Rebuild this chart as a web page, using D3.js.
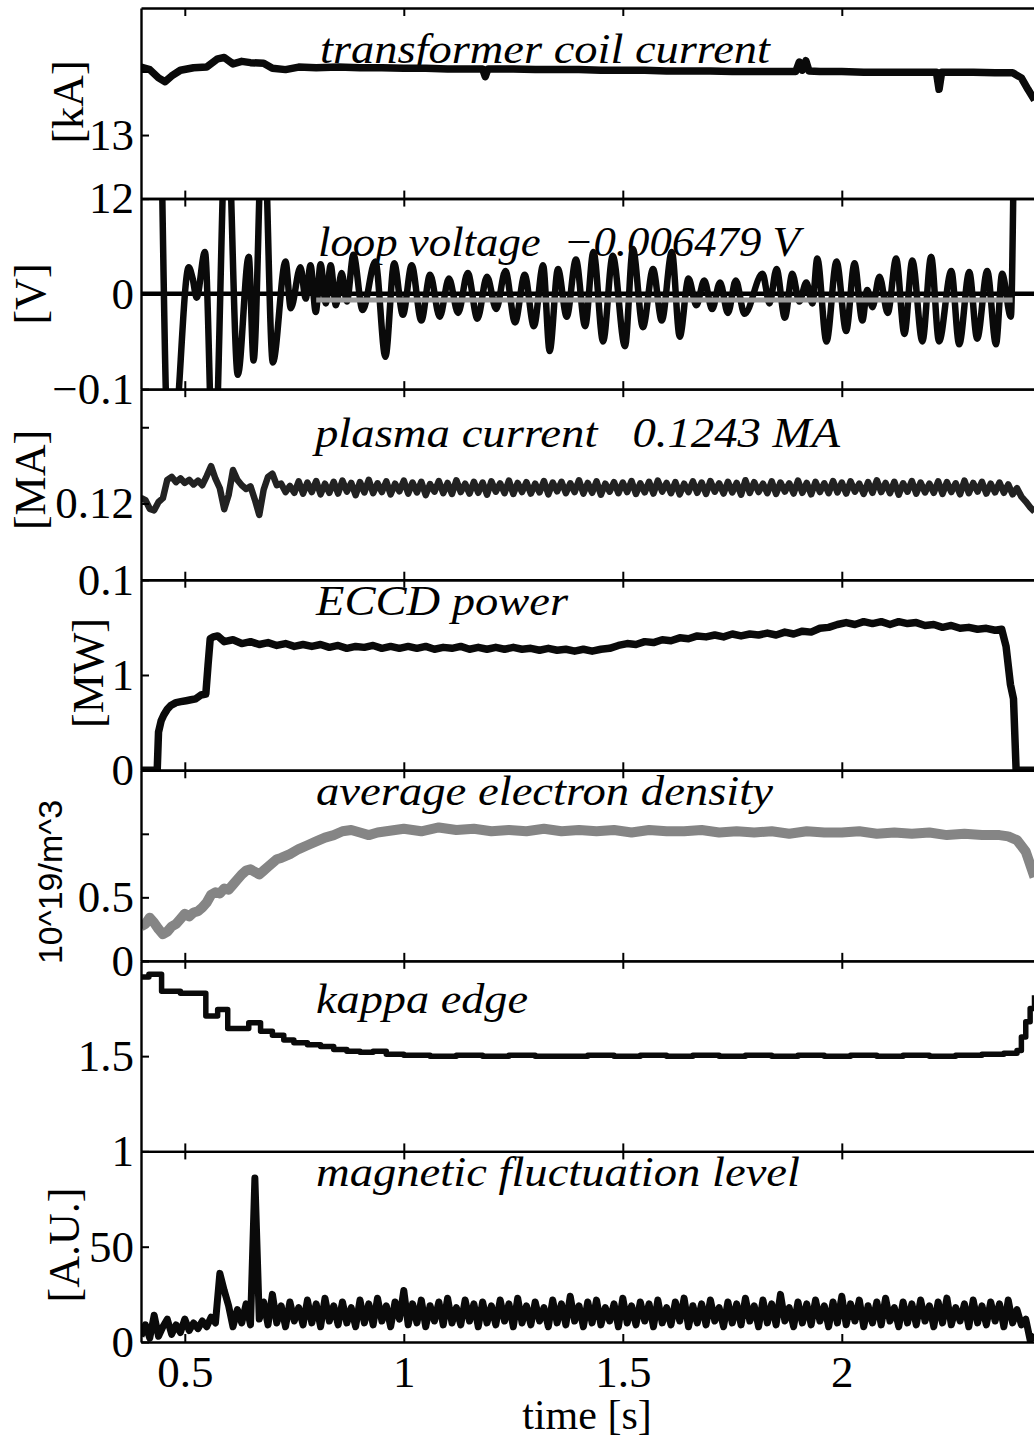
<!DOCTYPE html>
<html>
<head>
<meta charset="utf-8">
<script src="https://cdn.jsdelivr.net/npm/d3@7"></script>
<style>
  html, body { margin: 0; padding: 0; background: #fff; overflow: hidden; }
  svg { display: block; }
  text { font-family: "Liberation Serif", "Times New Roman", serif; fill: #000; }
  .tick-label text, .time-label text { font-size: 45px; }
  .unit { font-size: 44px; }
  .axis-title { font-size: 42px; }
  .unit-sans { font-family: "Liberation Sans", Arial, sans-serif; font-size: 34px; }
  .title { font-size: 42px; font-style: italic; white-space: pre; }
  .domain { stroke: #000; stroke-width: 2.4px; }
  .tick line { stroke: #000; stroke-width: 2px; }
</style>
</head>
<body>
<svg id="chart" width="1034" height="1440"></svg>
<script>
// ---- time axis ----
const timeDomain = [0.4, 2.5];
const timeTicks = [0.5, 1, 1.5, 2];

// ---- transformer coil current [kA] ----
const coilT = [0.40, 0.42, 0.44, 0.455, 0.47, 0.49, 0.52, 0.55, 0.575, 0.59,
  0.61, 0.63, 0.65, 0.68, 0.70, 0.73, 0.76, 0.80, 0.85, 0.90,
  0.95, 1.00, 1.05, 1.10, 1.15, 1.18, 1.186, 1.192, 1.25, 1.30,
  1.35, 1.40, 1.45, 1.50, 1.55, 1.60, 1.65, 1.70, 1.75, 1.80,
  1.85, 1.895, 1.903, 1.91, 1.918, 1.925, 1.95, 2.00, 2.05, 2.10,
  2.15, 2.20, 2.216, 2.222, 2.228, 2.25, 2.30, 2.35, 2.39, 2.41,
  2.425, 2.44];
const coilKA = [14.07, 14.03, 13.90, 13.84, 13.93, 14.02, 14.06, 14.07, 14.20, 14.22,
  14.12, 14.16, 14.14, 14.13, 14.05, 14.03, 14.07, 14.06, 14.07, 14.06,
  14.06, 14.05, 14.05, 14.04, 14.04, 14.04, 13.92, 14.04, 14.04, 14.03,
  14.03, 14.03, 14.02, 14.02, 14.02, 14.01, 14.01, 14.01, 14.00, 14.00,
  14.00, 14.00, 14.15, 14.02, 14.17, 14.01, 14.00, 14.00, 13.99, 13.99,
  13.99, 13.99, 13.99, 13.72, 13.99, 13.99, 13.99, 13.98, 13.98, 13.90,
  13.72, 13.55];

// ---- loop voltage [V]: [time, volts] ----
const loopVoltage = [
  [0.446, 0.18], [0.464, -0.18], [0.476, -0.16], [0.509, 0.028], [0.518, 0.016],
  [0.527, -0.004], [0.546, 0.044], [0.566, -0.2], [0.596, 0.2], [0.621, -0.085],
  [0.646, 0.039], [0.657, -0.07], [0.679, 0.2], [0.701, -0.072], [0.730, 0.034],
  [0.742, -0.015], [0.764, 0.028], [0.776, -0.005], [0.787, 0.030], [0.799, -0.019],
  [0.810, 0.031], [0.822, -0.010], [0.833, 0.030], [0.845, -0.012], [0.858, 0.022],
  [0.870, -0.008], [0.885, 0.041], [0.906, -0.017], [0.935, 0.034], [0.958, -0.066],
  [0.978, 0.032], [0.998, -0.022], [1.018, 0.030], [1.040, -0.028], [1.060, 0.020],
  [1.082, -0.024], [1.103, 0.016], [1.124, -0.020], [1.146, 0.022], [1.168, -0.026],
  [1.190, 0.018], [1.211, -0.016], [1.232, 0.024], [1.254, -0.030], [1.276, 0.020],
  [1.297, -0.034], [1.318, 0.030], [1.333, -0.060], [1.352, 0.026], [1.372, -0.024],
  [1.393, 0.036], [1.414, -0.034], [1.433, 0.044], [1.455, -0.050], [1.477, 0.040],
  [1.505, -0.055], [1.523, 0.047], [1.546, -0.035], [1.569, 0.026], [1.589, -0.028],
  [1.612, 0.044], [1.630, -0.045], [1.650, 0.016], [1.668, -0.012], [1.686, 0.014],
  [1.704, -0.016], [1.722, 0.012], [1.740, -0.020], [1.758, 0.014], [1.778, -0.021],
  [1.819, 0.021], [1.835, -0.010], [1.851, 0.026], [1.870, -0.025], [1.887, 0.021],
  [1.903, -0.008], [1.919, 0.012], [1.933, -0.010], [1.944, 0.037], [1.965, -0.050],
  [1.988, 0.034], [2.010, -0.039], [2.029, 0.032], [2.047, -0.028], [2.058, 0.004],
  [2.070, -0.014], [2.086, 0.018], [2.105, -0.020], [2.124, 0.037], [2.143, -0.042],
  [2.161, 0.035], [2.184, -0.050], [2.204, 0.039], [2.222, -0.050], [2.250, 0.024],
  [2.268, -0.053], [2.291, 0.023], [2.309, -0.047], [2.332, 0.024], [2.352, -0.053],
  [2.366, 0.021], [2.386, -0.024], [2.396, 0.2], [2.44, 0.2]
];
const loopVoltageMean = -0.006479;
const loopMeanWindow = [0.80, 2.39];

// ---- plasma current [MA], sampled every 10 ms from 0.40 s ----
const plasmaStart = 0.40, plasmaInterval = 0.01;
const plasmaCurrent = [
  0.1215, 0.1209, 0.1186, 0.1182, 0.1204, 0.1214, 0.1262, 0.1270, 0.1256, 0.1266,
  0.1254, 0.1262, 0.1250, 0.1260, 0.1248, 0.1272, 0.1298, 0.1265, 0.1240, 0.1185,
  0.1222, 0.1288, 0.1262, 0.1248, 0.1238, 0.1245, 0.1210, 0.1170, 0.1236, 0.1270,
  0.1278, 0.1248, 0.1252, 0.1230, 0.1246, 0.1228, 0.1258, 0.1226, 0.1255, 0.1230,
  0.1259, 0.1224, 0.1252, 0.1228, 0.1257, 0.1226, 0.1260, 0.1231, 0.1254, 0.1222,
  0.1256, 0.1229, 0.1262, 0.1227, 0.1253, 0.1230, 0.1258, 0.1224, 0.1252, 0.1232,
  0.1260, 0.1226, 0.1255, 0.1229, 0.1257, 0.1222, 0.1251, 0.1231, 0.1259, 0.1227,
  0.1254, 0.1225, 0.1261, 0.1230, 0.1252, 0.1226, 0.1257, 0.1228, 0.1255, 0.1223,
  0.1258, 0.1231, 0.1253, 0.1227, 0.1260, 0.1225, 0.1254, 0.1230, 0.1256, 0.1226,
  0.1252, 0.1229, 0.1259, 0.1224, 0.1255, 0.1232, 0.1257, 0.1227, 0.1253, 0.1230,
  0.1261, 0.1226, 0.1254, 0.1228, 0.1258, 0.1223, 0.1252, 0.1231, 0.1256, 0.1227,
  0.1255, 0.1230, 0.1259, 0.1225, 0.1253, 0.1229, 0.1257, 0.1226, 0.1260, 0.1231,
  0.1254, 0.1227, 0.1256, 0.1224, 0.1252, 0.1230, 0.1258, 0.1228, 0.1255, 0.1225,
  0.1259, 0.1231, 0.1253, 0.1226, 0.1257, 0.1229, 0.1254, 0.1223, 0.1261, 0.1228,
  0.1256, 0.1230, 0.1252, 0.1227, 0.1258, 0.1225, 0.1255, 0.1231, 0.1253, 0.1226,
  0.1260, 0.1228, 0.1254, 0.1224, 0.1257, 0.1230, 0.1253, 0.1227, 0.1259, 0.1229,
  0.1255, 0.1226, 0.1258, 0.1231, 0.1252, 0.1225, 0.1256, 0.1228, 0.1261, 0.1230,
  0.1254, 0.1227, 0.1257, 0.1223, 0.1253, 0.1231, 0.1259, 0.1226, 0.1255, 0.1229,
  0.1252, 0.1228, 0.1258, 0.1225, 0.1256, 0.1230, 0.1253, 0.1224, 0.1260, 0.1227,
  0.1254, 0.1231, 0.1257, 0.1226, 0.1252, 0.1229, 0.1255, 0.1228, 0.1250, 0.1224,
  0.1240, 0.1218, 0.1205, 0.1190, 0.1178
];
const plasmaCurrentMean = 0.1243;

// ---- ECCD power [MW]: [time, MW] ----
const eccdPower = [
  [0.40, 0], [0.437, 0], [0.440, 0.40], [0.446, 0.52], [0.452, 0.58], [0.460, 0.64],
  [0.468, 0.68], [0.480, 0.71], [0.491, 0.72], [0.503, 0.73], [0.514, 0.74], [0.525, 0.75],
  [0.537, 0.79], [0.548, 0.80], [0.553, 1.10], [0.558, 1.38], [0.565, 1.40], [0.575, 1.41],
  [0.59, 1.35], [0.61, 1.37], [0.63, 1.33], [0.65, 1.35], [0.67, 1.32], [0.69, 1.34],
  [0.71, 1.31], [0.73, 1.33], [0.75, 1.30], [0.77, 1.32], [0.79, 1.30], [0.81, 1.32],
  [0.83, 1.29], [0.85, 1.31], [0.87, 1.28], [0.89, 1.30], [0.91, 1.29], [0.93, 1.31],
  [0.95, 1.28], [0.97, 1.30], [0.99, 1.28], [1.01, 1.30], [1.03, 1.28], [1.05, 1.30],
  [1.07, 1.27], [1.09, 1.29], [1.11, 1.28], [1.13, 1.30], [1.15, 1.27], [1.17, 1.29],
  [1.19, 1.27], [1.21, 1.29], [1.23, 1.27], [1.25, 1.29], [1.27, 1.27], [1.29, 1.28],
  [1.31, 1.26], [1.33, 1.28], [1.35, 1.26], [1.37, 1.27], [1.39, 1.25], [1.41, 1.27],
  [1.43, 1.25], [1.45, 1.27], [1.47, 1.28], [1.49, 1.31], [1.51, 1.33], [1.53, 1.32],
  [1.55, 1.35], [1.57, 1.34], [1.59, 1.37], [1.61, 1.36], [1.63, 1.39], [1.65, 1.38],
  [1.67, 1.41], [1.69, 1.40], [1.71, 1.42], [1.73, 1.40], [1.75, 1.43], [1.77, 1.41],
  [1.79, 1.43], [1.81, 1.42], [1.83, 1.44], [1.85, 1.42], [1.87, 1.45], [1.89, 1.43],
  [1.91, 1.46], [1.93, 1.45], [1.95, 1.49], [1.97, 1.50], [1.99, 1.53], [2.01, 1.55],
  [2.03, 1.53], [2.05, 1.56], [2.07, 1.54], [2.09, 1.56], [2.11, 1.53], [2.13, 1.56],
  [2.15, 1.54], [2.17, 1.55], [2.19, 1.52], [2.21, 1.53], [2.23, 1.50], [2.25, 1.52],
  [2.27, 1.49], [2.29, 1.50], [2.31, 1.48], [2.33, 1.49], [2.35, 1.47], [2.365, 1.48],
  [2.375, 1.30], [2.385, 0.90], [2.392, 0.75], [2.398, 0], [2.44, 0]
];

// ---- line-averaged electron density [10^19 m^-3]: [time, value] ----
const electronDensity = [
  [0.40, 0.27], [0.41, 0.29], [0.42, 0.34], [0.43, 0.30], [0.44, 0.25], [0.45, 0.21],
  [0.46, 0.23], [0.47, 0.27], [0.48, 0.29], [0.49, 0.33], [0.50, 0.37], [0.51, 0.35],
  [0.52, 0.38], [0.53, 0.39], [0.54, 0.42], [0.55, 0.46], [0.56, 0.52], [0.57, 0.54],
  [0.58, 0.53], [0.59, 0.57], [0.60, 0.56], [0.61, 0.60], [0.62, 0.64], [0.63, 0.68],
  [0.64, 0.71], [0.65, 0.72], [0.66, 0.70], [0.67, 0.68], [0.68, 0.71], [0.69, 0.74],
  [0.70, 0.77], [0.71, 0.80], [0.72, 0.81], [0.74, 0.84], [0.76, 0.88], [0.78, 0.91],
  [0.80, 0.94], [0.82, 0.97], [0.84, 0.99], [0.86, 1.02], [0.88, 1.03], [0.90, 1.01],
  [0.92, 0.99], [0.94, 1.01], [0.96, 1.02], [0.98, 1.03], [1.00, 1.04], [1.04, 1.02],
  [1.08, 1.05], [1.12, 1.03], [1.16, 1.04], [1.20, 1.02], [1.24, 1.03], [1.28, 1.02],
  [1.32, 1.04], [1.36, 1.02], [1.40, 1.03], [1.44, 1.02], [1.48, 1.03], [1.52, 1.01],
  [1.56, 1.03], [1.60, 1.02], [1.64, 1.02], [1.68, 1.03], [1.72, 1.01], [1.76, 1.02],
  [1.80, 1.01], [1.84, 1.02], [1.88, 1.00], [1.92, 1.02], [1.96, 1.01], [2.00, 1.01],
  [2.04, 1.02], [2.08, 1.00], [2.12, 1.01], [2.16, 1.00], [2.20, 1.01], [2.24, 0.99],
  [2.28, 1.00], [2.32, 0.99], [2.36, 0.99], [2.38, 0.98], [2.40, 0.95], [2.42, 0.86],
  [2.44, 0.66]
];

// ---- edge elongation (equilibrium reconstruction, piecewise constant) ----
const kappaT = [0.40, 0.418, 0.447, 0.49, 0.548, 0.575, 0.598, 0.646, 0.673, 0.70,
  0.726, 0.749, 0.78, 0.81, 0.84, 0.87, 0.90, 0.93, 0.96, 1.00,
  1.06, 1.12, 1.18, 1.24, 1.30, 1.36, 1.42, 1.48, 1.54, 1.60,
  1.66, 1.72, 1.78, 1.84, 1.90, 1.96, 2.02, 2.08, 2.14, 2.20,
  2.26, 2.32, 2.37, 2.40, 2.41, 2.42, 2.43, 2.44];
const kappaEdge = [1.915, 1.93, 1.84, 1.83, 1.71, 1.745, 1.645, 1.675, 1.63, 1.61,
  1.585, 1.57, 1.56, 1.55, 1.535, 1.525, 1.52, 1.525, 1.51, 1.505,
  1.50, 1.505, 1.50, 1.505, 1.50, 1.50, 1.505, 1.50, 1.505, 1.50,
  1.505, 1.50, 1.505, 1.50, 1.505, 1.50, 1.505, 1.50, 1.505, 1.50,
  1.505, 1.51, 1.515, 1.53, 1.60, 1.68, 1.75, 1.82];

// ---- magnetic fluctuation level [A.U.], sampled every 10 ms from 0.40 s ----
const magStart = 0.40, magInterval = 0.01;
const magFluct = [
  3, 9, 2, 14, 3, 8, 12, 4, 9, 5,
  12, 6, 10, 7, 11, 8, 13, 10, 36, 27,
  19, 8, 17, 10, 20, 9, 86, 12, 21, 9,
  25, 10, 19, 8, 21, 11, 18, 9, 22, 10,
  20, 8, 23, 11, 19, 9, 21, 10, 18, 8,
  22, 10, 20, 9, 23, 11, 19, 8, 21, 12,
  27, 9, 20, 10, 22, 8, 19, 11, 21, 9,
  23, 10, 18, 9, 22, 11, 20, 8, 21, 10,
  19, 9, 22, 11, 20, 8, 23, 10, 19, 9,
  21, 11, 18, 8, 22, 10, 20, 9, 24, 11,
  19, 8, 21, 10, 22, 9, 18, 11, 20, 8,
  23, 10, 19, 9, 21, 11, 20, 8, 22, 10,
  18, 9, 21, 11, 23, 8, 19, 10, 20, 9,
  22, 11, 18, 8, 21, 10, 20, 9, 23, 11,
  19, 8, 22, 10, 20, 9, 25, 11, 18, 8,
  21, 10, 20, 9, 22, 11, 19, 8, 21, 10,
  24, 9, 20, 11, 22, 8, 19, 10, 21, 9,
  23, 11, 18, 8, 21, 10, 20, 9, 22, 11,
  19, 8, 21, 10, 23, 9, 18, 11, 20, 8,
  22, 10, 19, 9, 21, 11, 20, 8, 22, 10,
  17, 9, 12, 1, 4
];

// ---- per-panel y axes: domains, tick positions and which ticks carry labels ----
const coilDomain = [12, 15], coilTicks = [12, 13, 14], coilLabelled = [12, 13];
const loopDomain = [-0.1, 0.1], loopTicks = [-0.1, 0, 0.1], loopLabelled = [-0.1, 0];
const ipDomain = [0.1, 0.15], ipTicks = [0.1, 0.12, 0.14], ipLabelled = [0.1, 0.12];
const eccdDomain = [0, 2], eccdTicks = [0, 1, 2], eccdLabelled = [0, 1];
const neDomain = [0, 1.5], neTicks = [0, 0.5, 1], neLabelled = [0, 0.5];
const kappaDomain = [1, 2], kappaTicks = [1, 1.5, 2], kappaLabelled = [1, 1.5];
const magDomain = [0, 100], magTicks = [0, 50, 100], magLabelled = [0, 50];

// ---------------------------------------------------------------
const svg = d3.select("#chart");
const plotLeft = 141, plotTop = 8, panelH = 190.57;
const x = d3.scaleLinear().domain(timeDomain).range([plotLeft, plotLeft + 2.1 * 438]);
const fmtSigned = v => (v < 0 ? "\u2212" : "") + Math.abs(v);

const sampled = (start, dt, arr) => arr.map((v, i) => [start + i * dt, v]);
const zip = (ts, vs) => ts.map((t, i) => [t, vs[i]]);
const trace = (g, data, color, width, curve) => g.append("path").datum(data)
  .attr("fill", "none").attr("stroke", color).attr("stroke-width", width)
  .attr("stroke-linejoin", "round")
  .attr("d", d3.line().curve(curve || d3.curveLinear).x(d => x(d[0])).y(d => g.yScale(d[1])));

const panels = [
  { domain: coilDomain, ticks: coilTicks, labelled: coilLabelled,
    title: "transformer coil current", titleX: 320, titleY: 63, titleW: 450,
    unit: "[kA]", unitX: 68, unitY: 102, unitClass: "unit",
    draw: g => trace(g, zip(coilT, coilKA), "#0a0a0a", 7.5) },
  { domain: loopDomain, ticks: loopTicks, labelled: loopLabelled,
    title: "loop voltage  " + fmtSigned(loopVoltageMean) + " V", titleX: 318, titleY: 256, titleW: 482,
    unit: "[V]", unitX: 30, unitY: 294, unitClass: "unit",
    draw: g => {
      const y = g.yScale;
      g.append("line").attr("x1", x(timeDomain[0])).attr("x2", x(timeDomain[1]))
        .attr("y1", y(0)).attr("y2", y(0)).attr("stroke", "#000").attr("stroke-width", 4.5);
      trace(g, loopVoltage, "#0a0a0a", 6.5, d3.curveMonotoneX);
      g.append("line").attr("x1", x(loopMeanWindow[0])).attr("x2", x(loopMeanWindow[1]))
        .attr("y1", y(loopVoltageMean)).attr("y2", y(loopVoltageMean))
        .attr("stroke", "#9a9a9a").attr("stroke-width", 5);
    } },
  { domain: ipDomain, ticks: ipTicks, labelled: ipLabelled,
    title: "plasma current   " + plasmaCurrentMean + " MA", titleX: 315, titleY: 447, titleW: 525,
    unit: "[MA]", unitX: 30, unitY: 480, unitClass: "unit",
    draw: g => trace(g, sampled(plasmaStart, plasmaInterval, plasmaCurrent), "#222", 6.5) },
  { domain: eccdDomain, ticks: eccdTicks, labelled: eccdLabelled,
    title: "ECCD power", titleX: 316, titleY: 615, titleW: 252,
    unit: "[MW]", unitX: 88, unitY: 673, unitClass: "unit",
    draw: g => trace(g, eccdPower, "#0a0a0a", 7.5) },
  { domain: neDomain, ticks: neTicks, labelled: neLabelled,
    title: "average electron density", titleX: 316, titleY: 805, titleW: 457,
    unit: "10^19/m^3", unitX: 50, unitY: 882, unitClass: "unit-sans",
    draw: g => trace(g, electronDensity, "#858585", 10) },
  { domain: kappaDomain, ticks: kappaTicks, labelled: kappaLabelled,
    title: "kappa edge", titleX: 316, titleY: 1013, titleW: 212,
    unit: null,
    draw: g => trace(g, zip(kappaT, kappaEdge), "#0a0a0a", 5.5, d3.curveStepAfter) },
  { domain: magDomain, ticks: magTicks, labelled: magLabelled,
    title: "magnetic fluctuation level", titleX: 316, titleY: 1186, titleW: 484,
    unit: "[A.U.]", unitX: 64, unitY: 1245, unitClass: "unit",
    draw: g => trace(g, sampled(magStart, magInterval, magFluct), "#0a0a0a", 7) }
];

const defs = svg.append("defs");

panels.forEach((p, i) => {
  const top = plotTop + i * panelH, bottom = top + panelH;
  const y = d3.scaleLinear().domain(p.domain).range([bottom, top]);
  const g = svg.append("g").attr("class", "panel");

  defs.append("clipPath").attr("id", "clip" + i).append("rect")
    .attr("x", x.range()[0]).attr("y", top)
    .attr("width", x.range()[1] - x.range()[0]).attr("height", panelH);

  // title
  g.append("text").attr("class", "title")
    .attr("x", p.titleX).attr("y", p.titleY)
    .attr("textLength", p.titleW).attr("lengthAdjust", "spacingAndGlyphs")
    .text(p.title);

  // signal
  const plot = g.append("g").attr("clip-path", `url(#clip${i})`);
  plot.yScale = y;
  p.draw(plot);

  // frame and inward ticks on top/bottom edges
  g.append("g").attr("transform", `translate(0,${bottom})`)
    .call(d3.axisBottom(x).tickValues(timeTicks).tickSize(-8).tickSizeOuter(0).tickFormat(""));
  g.append("g").attr("transform", `translate(0,${top})`)
    .call(d3.axisTop(x).tickValues(timeTicks).tickSize(-8).tickSizeOuter(0).tickFormat(""));

  // left axis
  const yAxis = g.append("g").attr("class", "tick-label")
    .attr("transform", `translate(${x.range()[0]},0)`)
    .call(d3.axisLeft(y).tickValues(p.ticks).tickSize(-8).tickSizeOuter(0).tickPadding(7)
      .tickFormat(v => p.labelled.includes(v) ? fmtSigned(v) : ""));
  yAxis.attr("font-size", null).attr("font-family", null);

  // unit label
  if (p.unit) {
    g.append("text").attr("class", p.unitClass)
      .attr("transform", `translate(${p.unitX},${p.unitY}) rotate(-90)`)
      .attr("text-anchor", "middle").attr("dominant-baseline", "central")
      .text(p.unit);
  }

  if (i === panels.length - 1) {
    const xl = g.append("g").attr("class", "time-label")
      .attr("transform", `translate(0,${bottom})`)
      .call(d3.axisBottom(x).tickValues(timeTicks).tickSize(0).tickPadding(13)
        .tickFormat(d => String(d)));
    xl.select(".domain").remove();
    xl.attr("font-size", null).attr("font-family", null);
    svg.append("text").attr("class", "axis-title")
      .attr("x", 587).attr("y", 1429).attr("text-anchor", "middle")
      .text("time [s]");
  }
});
</script>
</body>
</html>
